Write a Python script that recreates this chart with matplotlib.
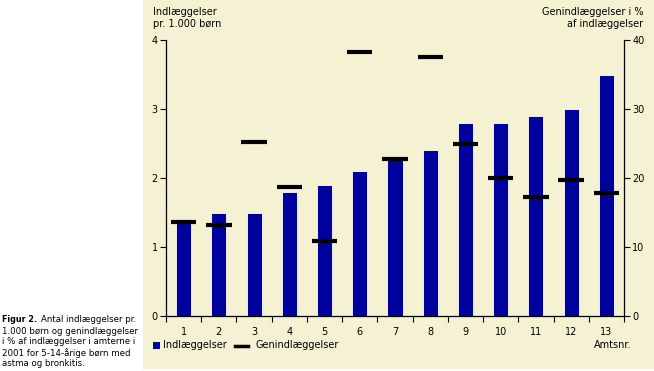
import matplotlib
matplotlib.use('Agg')
from matplotlib import pyplot as plt
from matplotlib.patches import Rectangle
from matplotlib.lines import Line2D

# data
amter = [1, 2, 3, 4, 5, 6, 7, 8, 9, 10, 11, 12, 13]
indlaeggelser = [1.4, 1.5, 1.5, 1.8, 1.9, 2.1, 2.3, 2.4, 2.8, 2.8, 2.9, 3.0, 3.5]
genindlaeggelser = [13.6, 13.2, 25.2, 18.7, 10.8, 38.3, 22.8, 37.5, 24.9, 20.0, 17.3, 19.7, 17.8]
yticks_left = [0, 1, 2, 3, 4]
yticks_right = [0, 10, 20, 30, 40]
caption = ['Antal indlæggelser pr.',
           '1.000 børn og genindlæggelser',
           'i % af indlæggelser i amterne i',
           '2001 for 5-14-årige børn med',
           'astma og bronkitis.']

W, H = 654, 371
plt.rcParams['font.family'] = ['Liberation Sans Narrow', 'DejaVu Sans']
plt.rcParams['font.size'] = 7

fig = plt.figure(figsize=(W / 100, H / 100), dpi=100)
fig.patch.set_facecolor('white')
# beige panel behind the chart
fig.patches.append(Rectangle((143 / W, 2 / H), 1 - 143 / W, 1, transform=fig.transFigure,
                             facecolor='#f4f2d2', edgecolor='none', zorder=-5))

ax = fig.add_axes([166 / W, (H - 316) / H, 458 / W, 276 / H])
ax.set_facecolor('none')
ax2 = ax.twinx()

ax.bar(amter, indlaeggelser, width=0.43, color='#00009c', edgecolor='white', linewidth=0.6, zorder=2)
ax2.hlines(genindlaeggelser, [a - 0.36 for a in amter], [a + 0.36 for a in amter],
           color='black', linewidth=3, zorder=3)

ax.set_xlim(0.5, 13.5)
ax.set_ylim(0, 4)
ax2.set_ylim(0, 40)
ax.set_yticks(yticks_left)
ax2.set_yticks(yticks_right)

# category labels centred, tick marks between bars
ax.set_xticks(amter)
ax.set_xticklabels([str(a) for a in amter])
ax.set_xticks([a + 0.5 for a in [0] + amter], minor=True)
ax.tick_params(axis='x', which='major', length=0, pad=8, labelsize=7)
ax.tick_params(axis='x', which='minor', length=4, width=0.8, direction='out')
ax.tick_params(axis='y', length=4, width=0.8, labelsize=7, pad=2)
ax2.tick_params(axis='y', length=4, width=0.8, labelsize=7, pad=2)

for a in (ax, ax2):
    a.spines['top'].set_visible(False)
    for s in a.spines.values():
        s.set_linewidth(0.9)
ax.spines['right'].set_visible(False)
ax2.spines['left'].set_visible(False)
ax2.spines['bottom'].set_visible(False)

# axis titles
fig.text(153 / W, 1 - 18 / H, 'Indlæggelser\npr. 1.000 børn', ha='left', va='center',
         fontsize=7, linespacing=1.3)
fig.text(643 / W, 1 - 18 / H, 'Genindlæggelser i %\naf indlæggelser', ha='right', va='center',
         fontsize=7, linespacing=1.3, multialignment='right')

# legend drawn by hand below the axis
fig.patches.append(Rectangle((153 / W, 1 - 349 / H), 7 / W, 7 / H, transform=fig.transFigure,
                             facecolor='#00009c', edgecolor='none'))
fig.text(163 / W, 1 - 345.5 / H, 'Indlæggelser', ha='left', va='center', fontsize=7)
fig.lines.append(Line2D([235 / W, 248 / W], [1 - 345.5 / H, 1 - 345.5 / H], transform=fig.transFigure,
                        color='black', linewidth=2.5))
fig.text(255 / W, 1 - 345.5 / H, 'Genindlæggelser', ha='left', va='center', fontsize=7)
fig.text(631 / W, 1 - 345.5 / H, 'Amtsnr.', ha='right', va='center', fontsize=7)

# figure caption on the left
fig.text(2 / W, 1 - 320 / H, 'Figur 2.', ha='left', va='center', fontsize=5.8, fontweight='bold')
for i, line in enumerate(caption):
    x = 41 if i == 0 else 2
    fig.text(x / W, 1 - (320 + 11 * i) / H, line, ha='left', va='center', fontsize=6.2)

fig.savefig('out.png', dpi=100)
